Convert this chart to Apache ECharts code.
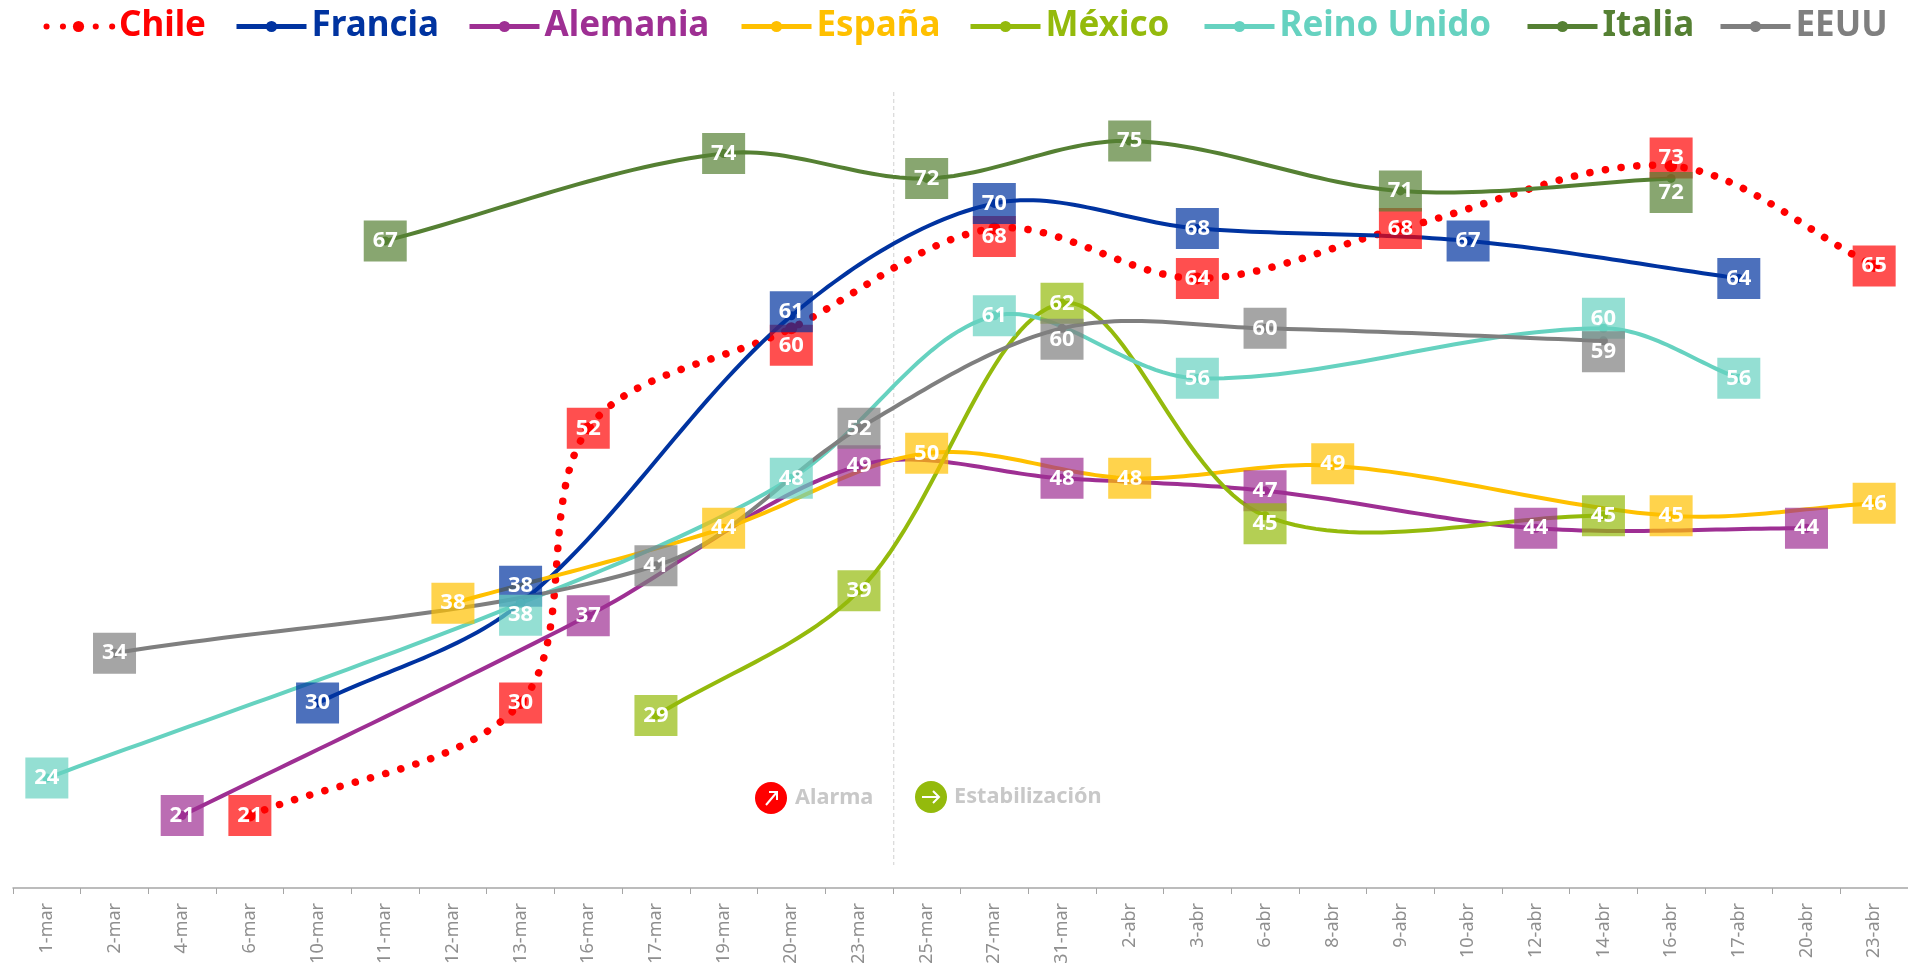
<!DOCTYPE html>
<html>
<head>
<meta charset="utf-8">
<style>html,body{margin:0;padding:0;background:#fff}#main{width:1908px;height:968px}</style>
<script src="https://cdn.jsdelivr.net/npm/echarts@6/dist/echarts.min.js"></script>
</head>
<body>
<div id="main"></div>
<script>
const categories = ['1-mar','2-mar','4-mar','6-mar','10-mar','11-mar','12-mar','13-mar','16-mar','17-mar','19-mar','20-mar','23-mar','25-mar','27-mar','31-mar','2-abr','3-abr','6-abr','8-abr','9-abr','10-abr','12-abr','14-abr','16-abr','17-abr','20-abr','23-abr'];
const _ = null;
const chile    = [_,_,_,21,_,_,_,30,52,_,_,60,_,_,68,_,_,64,_,_,68,_,_,_,73,_,_,65];
const francia  = [_,_,_,_,30,_,_,38,_,_,_,61,_,_,70,_,_,68,_,_,_,67,_,_,_,64,_,_];
const alemania = [_,_,21,_,_,_,_,_,37,_,_,_,49,_,_,48,_,_,47,_,_,_,44,_,_,_,44,_];
const espana   = [_,_,_,_,_,_,38,_,_,_,44,_,_,50,_,_,48,_,_,49,_,_,_,_,45,_,_,46];
const mexico   = [_,_,_,_,_,_,_,_,_,29,_,_,39,_,_,62,_,_,45,_,_,_,_,45,_,_,_,_];
const reino    = [24,_,_,_,_,_,_,38,_,_,_,48,_,_,61,_,_,56,_,_,_,_,_,60,_,56,_,_];
const italia   = [_,_,_,_,_,67,_,_,_,_,74,_,_,72,_,_,75,_,_,_,71,_,_,_,72,_,_,_];
const eeuu     = [_,34,_,_,_,_,_,_,_,41,_,_,52,_,_,60,_,_,60,_,_,_,_,59,_,_,_,_];

const names  = ['Chile','Francia','Alemania','España','México','Reino Unido','Italia','EEUU'];
const values = [chile, francia, alemania, espana, mexico, reino, italia, eeuu];
const colors = ['#ff0000','#0033a0','#9e2f93','#ffc000','#94ba0c','#66d2c0','#558033','#7f7f7f'];
const boxes  = ['rgba(255,0,0,.69)','rgba(0,51,160,.7)','rgba(158,47,147,.7)','rgba(255,192,0,.7)','rgba(148,186,12,.7)','rgba(102,210,192,.7)','rgba(85,128,51,.7)','rgba(127,127,127,.7)'];
const legendLeft = [40,234,467,739,968,1202,1525,1718];

// etiquetas desplazadas respecto de su punto (px)
const labelShift = {
  'Chile': {11:17, 14:8, 24:-8},
  'Francia': {7:-17, 11:-4},
  'España': {19:-2},
  'México': {18:8},
  'Reino Unido': {7:12, 23:-10},
  'Italia': {24:14},
  'EEUU': {15:11, 23:11}
};

const gridLeft = 13, gridRight = -2, gridTop = 78.5, gridBottom = 80;
const chartWidth = 1908;
const plotWidth = chartWidth - gridLeft - gridRight;
const splitX = gridLeft + plotWidth * 13 / categories.length;

const font = '"Noto Sans", sans-serif';

// curva suavizada como la de Excel: bezier entre puntos, tangente segun vecinos
function smoothPoints(pts) {
  const out = [];
  const dist = (a, b) => Math.hypot(a[0] - b[0], a[1] - b[1]);
  for (let i = 0; i < pts.length - 1; i++) {
    const p0 = pts[i - 1] || pts[i], p1 = pts[i], p2 = pts[i + 1], p3 = pts[i + 2] || p2;
    const d1 = dist(p0, p1), d2 = dist(p1, p2), d3 = dist(p2, p3);
    const r1 = d2 / (d1 + d2) / 3, r2 = d2 / (d2 + d3) / 3;
    const c1 = [p1[0] + (p2[0] - p0[0]) * r1, p1[1] + (p2[1] - p0[1]) * r1];
    const c2 = [p2[0] - (p3[0] - p1[0]) * r2, p2[1] - (p3[1] - p1[1]) * r2];
    for (let k = 0; k < 30; k++) {
      const t = k / 30, u = 1 - t;
      out.push([
        u*u*u*p1[0] + 3*u*u*t*c1[0] + 3*u*t*t*c2[0] + t*t*t*p2[0],
        u*u*u*p1[1] + 3*u*u*t*c1[1] + 3*u*t*t*c2[1] + t*t*t*p2[1]
      ]);
    }
  }
  out.push(pts[pts.length - 1]);
  return out;
}

const lineSeries = names.map((name, s) => ({
  name,
  type: 'line',
  connectNulls: true,
  symbol: 'circle',
  symbolSize: s === 0 ? 12 : 9,
  z: 3,
  itemStyle: { color: colors[s] },
  lineStyle: { color: colors[s], width: 4, opacity: 0 },
  data: values[s].map((v, i) => {
    if (v === null) return null;
    const shift = (labelShift[name] || {})[i] || 0;
    return { value: v, label: { offset: [0, shift] } };
  }),
  label: {
    show: true,
    position: 'inside',
    color: '#fff',
    fontFamily: font,
    fontWeight: 'bold',
    fontSize: 22,
    width: 43,
    height: 41,
    lineHeight: 41,
    align: 'center',
    verticalAlign: 'middle',
    backgroundColor: boxes[s]
  }
}));

const curveSeries = names.map((name, s) => {
  const known = [];
  values[s].forEach((v, i) => { if (v !== null) known.push([i, v]); });
  return {
    type: 'custom',
    z: 2,
    silent: true,
    clip: false,
    data: [known[0]],
    encode: { x: 0, y: 1 },
    renderItem: (params, api) => ({
      type: 'polyline',
      shape: { points: smoothPoints(known.map(p => api.coord(p))) },
      style: s === 0
        ? { fill: 'none', stroke: colors[s], lineWidth: 7.5, lineDash: [0.1, 15.7], lineCap: 'round' }
        : { fill: 'none', stroke: colors[s], lineWidth: 4 }
    })
  };
});

const legends = names.map((name, s) => ({
  left: legendLeft[s],
  top: 9,
  padding: 0,
  data: [{ name, textStyle: { color: colors[s] } }],
  itemWidth: s === 0 ? 71 : 70,
  itemHeight: 14,
  itemGap: 0,
  selectedMode: false,
  lineStyle: s === 0
    ? { opacity: 1, width: 6, type: [0.1, 16.3], cap: 'round', dashOffset: -3.5 }
    : { opacity: 1, width: 5 },
  textStyle: { fontFamily: font, fontWeight: 'bold', fontSize: 35 }
}));

const myChart = echarts.init(document.getElementById('main'), null, { renderer: 'canvas' });
myChart.setOption({
  animation: false,
  backgroundColor: '#fff',
  legend: legends,
  grid: { left: gridLeft, right: gridRight, top: gridTop, bottom: gridBottom },
  xAxis: {
    type: 'category',
    data: categories,
    boundaryGap: true,
    axisLine: { lineStyle: { color: '#a6a6a6', width: 1.5 } },
    axisTick: { show: true, length: 6, alignWithLabel: false, lineStyle: { color: '#a6a6a6' } },
    axisLabel: { interval: 0, rotate: 90, color: '#8f8f8f', fontFamily: font, fontSize: 18, margin: 15 }
  },
  yAxis: { type: 'value', min: 15.2, max: 80, show: false, splitLine: { show: false } },
  series: lineSeries.concat(curveSeries),
  graphic: [
    { type: 'line', z: 1, shape: { x1: splitX, y1: 92, x2: splitX, y2: 865 }, style: { stroke: '#d0d0d0', lineWidth: 1, lineDash: [4, 3] } },
    { type: 'circle', shape: { cx: 771, cy: 798, r: 16 }, style: { fill: '#ff0000' } },
    { type: 'polyline', shape: { points: [[766,805],[777,792]] }, style: { stroke: '#fff', lineWidth: 2, fill: null } },
    { type: 'polyline', shape: { points: [[769,792],[777,792],[777,800]] }, style: { stroke: '#fff', lineWidth: 2, fill: null } },
    { type: 'text', x: 795, y: 798, style: { text: 'Alarma', fill: '#c8c8c8', font: 'bold 21.7px ' + font, textVerticalAlign: 'middle' } },
    { type: 'circle', shape: { cx: 931, cy: 797, r: 16 }, style: { fill: '#94ba0c' } },
    { type: 'polyline', shape: { points: [[922,797],[939,797]] }, style: { stroke: '#fff', lineWidth: 2, fill: null } },
    { type: 'polyline', shape: { points: [[933,791],[939,797],[933,803]] }, style: { stroke: '#fff', lineWidth: 2, fill: null } },
    { type: 'text', x: 954, y: 797, style: { text: 'Estabilización', fill: '#c8c8c8', font: 'bold 21.7px ' + font, textVerticalAlign: 'middle' } }
  ]
});
</script>
</body>
</html>
